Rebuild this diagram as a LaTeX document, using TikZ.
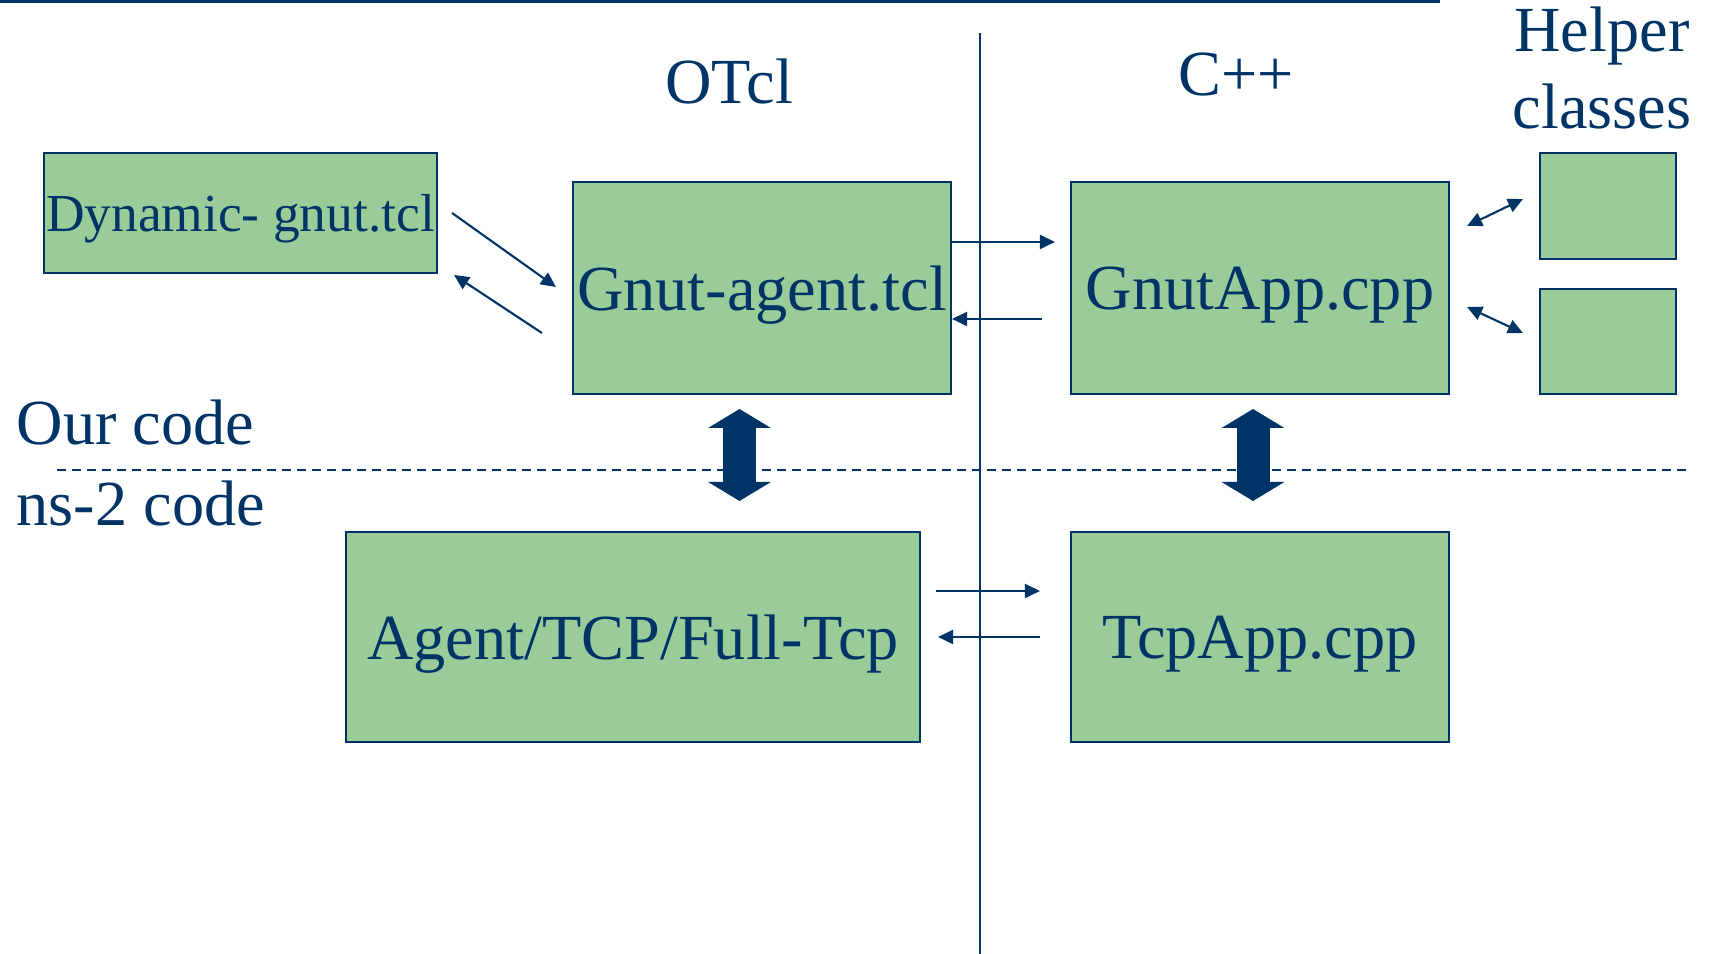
\documentclass[tikz,border=0pt]{standalone}
\usepackage{fontspec}
\setmainfont{Liberation Serif}
\definecolor{slidenavy}{RGB}{0,51,102}
\definecolor{slidegreen}{RGB}{153,204,153}
\usetikzlibrary{arrows.meta}

\begin{document}
\begin{tikzpicture}[
    box/.style={rectangle, draw=slidenavy, fill=slidegreen, line width=0.6pt, inner sep=0pt, text=slidenavy, text depth=0pt, font=\fontsize{18.3}{21.6}\selectfont},
    heading/.style={text=slidenavy, inner sep=0pt, font=\fontsize{18.3}{21.7}\selectfont},
    conn/.style={-{Triangle[length=1.5mm,width=1.4mm]}, draw=slidenavy, line width=0.6pt},
    twoway/.style={{Triangle[length=1.5mm,width=1.4mm]}-{Triangle[length=1.5mm,width=1.4mm]}, draw=slidenavy, line width=0.6pt},
    bigarrow/.style={{Triangle[length=1.9mm,width=6.2mm]}-{Triangle[length=1.9mm,width=6.2mm]}, draw=slidenavy, line width=3.3mm}
]
    \useasboundingbox (0,0) rectangle (17.12,-9.54);

    % rules
    \draw[slidenavy, line width=0.03cm] (0,-0.012) -- (14.40,-0.012);
    \draw[slidenavy, line width=0.6pt] (9.80,-0.33) -- (9.80,-9.54);
    \draw[slidenavy, line width=0.75pt, dash pattern=on 0.09cm off 0.06cm] (0.57,-4.70) -- (16.90,-4.70);

    % headings
    \node[heading, anchor=base] (otcl) at (7.29,-1.04) {OTcl};
    \node[heading, anchor=base] (cpp) at (12.36,-0.96) {C++};
    \node[heading, align=center] (helper) at (16.02,-0.68) {Helper\\classes};
    \node[heading, anchor=base west] (ours) at (0.16,-4.45) {Our code};
    \node[heading, anchor=base west] (ns2) at (0.16,-5.26) {ns-2 code};

    % boxes
    \node[box, minimum width=3.93cm, minimum height=1.20cm, font=\fontsize{15.2}{18}\selectfont] (dyn) at (2.405,-2.13) {Dynamic- gnut.tcl};
    \node[box, minimum width=3.78cm, minimum height=2.12cm] (gnut) at (7.62,-2.88) {Gnut-agent.tcl};
    \node[box, minimum width=3.78cm, minimum height=2.12cm] (app) at (12.60,-2.88) {GnutApp.cpp};
    \node[box, minimum width=1.36cm, minimum height=1.06cm] (help1) at (16.08,-2.06) {};
    \node[box, minimum width=1.36cm, minimum height=1.05cm] (help2) at (16.08,-3.415) {};
    \node[box, minimum width=5.74cm, minimum height=2.10cm] (agent) at (6.33,-6.37) {Agent/TCP/Full-Tcp};
    \node[box, minimum width=3.78cm, minimum height=2.10cm] (tcp) at (12.60,-6.37) {TcpApp.cpp};

    % connectors
    \draw[conn] ([shift={(0.14,0)}]dyn.east) -- ([shift={(-0.16,0.01)}]gnut.west);
    \draw[conn] ([shift={(-0.30,-0.45)}]gnut.west) -- ([shift={(0.16,-0.62)}]dyn.east);
    \draw[conn] ([shift={(0,0.46)}]gnut.east) -- ([shift={(-0.15,0.46)}]app.west);
    \draw[conn] ([shift={(-0.28,-0.31)}]app.west) -- ([shift={(0,-0.31)}]gnut.east);
    \draw[twoway] ([shift={(0.17,0.62)}]app.east) -- ([shift={(-0.16,0.07)}]help1.west);
    \draw[twoway] ([shift={(0.17,-0.19)}]app.east) -- ([shift={(-0.16,0.085)}]help2.west);
    \draw[conn] ([shift={(0.15,0.46)}]agent.east) -- ([shift={(-0.30,0.46)}]tcp.west);
    \draw[conn] ([shift={(-0.30,0)}]tcp.west) -- ([shift={(0.17,0)}]agent.east);

    % layer arrows
    \coordinate (ltop) at (7.395,-4.09);
    \coordinate (lbot) at (7.395,-5.01);
    \coordinate (rtop) at (12.53,-4.09);
    \coordinate (rbot) at (12.53,-5.01);
    \draw[bigarrow] (ltop) -- (lbot);
    \draw[bigarrow] (rtop) -- (rbot);
\end{tikzpicture}
\end{document}
